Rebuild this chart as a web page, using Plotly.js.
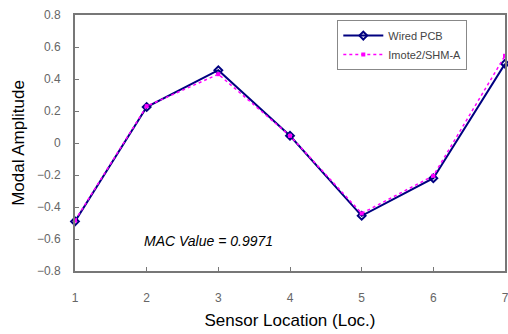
<!DOCTYPE html>
<html>
<head>
<meta charset="utf-8">
<script src="https://cdn.plot.ly/plotly-3.0.1.min.js"></script>
<style>html,body{margin:0;padding:0;background:#fff;}#chart{width:508px;height:334px;}</style>
</head>
<body>
<div id="chart"></div>
<script>
// Sensor locations along the structure
const sensorLocations = [1, 2, 3, 4, 5, 6, 7];
// Mode shape amplitudes from the wired PCB reference system
const wiredPCB = [-0.49, 0.225, 0.455, 0.045, -0.455, -0.22, 0.495];
// Mode shape amplitudes from the Imote2/SHM-A wireless system
const imote2SHMA = [-0.485, 0.23, 0.43, 0.045, -0.44, -0.205, 0.545];
const yTicks = [-0.8, -0.6, -0.4, -0.2, 0, 0.2, 0.4, 0.6, 0.8];
const yTickText = ['\u22120.8', '\u22120.6', '\u22120.4', '\u22120.2', '0', '0.2', '0.4', '0.6', '0.8'];
const macLabel = 'MAC Value = 0.9971';

const traces = [
  {
    x: sensorLocations, y: wiredPCB, name: 'Wired PCB',
    type: 'scatter', mode: 'lines+markers', cliponaxis: false,
    line: {color: '#000080', width: 2},
    marker: {symbol: 'diamond-open', size: 6, color: '#000080', line: {width: 2, color: '#000080'}}
  },
  {
    x: sensorLocations, y: imote2SHMA, name: 'Imote2/SHM-A',
    type: 'scatter', mode: 'lines+markers', cliponaxis: false,
    line: {color: '#ff00ff', width: 1.5, dash: 'dot'},
    marker: {symbol: 'square', size: 4, color: '#ff00ff'}
  }
];

const axisCommon = {
  showline: true, mirror: true, linecolor: '#777', linewidth: 2,
  ticks: 'inside', ticklen: 4, tickcolor: '#777', tickwidth: 1,
  showgrid: false, zeroline: false, ticklabeloverflow: 'allow',
  tickfont: {family: 'Liberation Sans, Arial, sans-serif', size: 12, color: '#666'}
};

const layout = {
  width: 508, height: 334,
  margin: {l: 75, r: 3, t: 15, b: 63},
  paper_bgcolor: '#fff', plot_bgcolor: '#fff',
  showlegend: true,
  legend: {
    x: 0.61, y: 0.98, xanchor: 'left', yanchor: 'top',
    bgcolor: '#fff', bordercolor: '#888', borderwidth: 1,
    font: {family: 'Liberation Sans, Arial, sans-serif', size: 11, color: '#444'},
    tracegroupgap: 0, itemwidth: 40
  },
  xaxis: Object.assign({}, axisCommon, {
    range: [1, 7], tickvals: sensorLocations, ticklabelstandoff: 15,
    title: {text: 'Sensor Location (Loc.)', standoff: 10,
      font: {family: 'Liberation Sans, Arial, sans-serif', size: 17, color: '#000'}}
  }),
  yaxis: Object.assign({}, axisCommon, {
    range: [-0.8, 0.8], tickvals: yTicks, ticktext: yTickText, ticklabelstandoff: 10,
    title: {text: 'Modal Amplitude', standoff: 8,
      font: {family: 'Liberation Sans, Arial, sans-serif', size: 17, color: '#000'}}
  }),
  annotations: [{
    x: 2.86, y: -0.61, xref: 'x', yref: 'y', text: macLabel, showarrow: false,
    font: {family: 'Liberation Sans, Arial, sans-serif', size: 14, color: '#000', style: 'italic'}
  }]
};

Plotly.newPlot('chart', traces, layout, {displayModeBar: false, staticPlot: true});
</script>
</body>
</html>
